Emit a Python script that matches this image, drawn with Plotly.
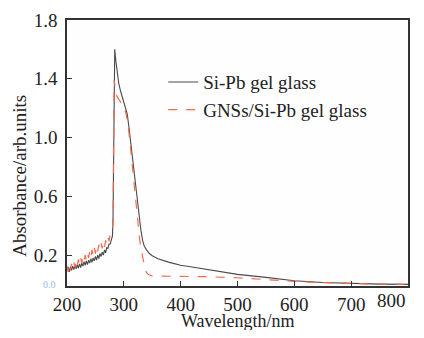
import plotly.graph_objects as go

# Noisy low-wavelength region (200-280 nm, 2 nm steps)
wl_low = list(range(200, 282, 2))
sipb_low = [0.095, 0.12, 0.085, 0.12, 0.095, 0.125, 0.10, 0.13, 0.105, 0.135,
            0.11, 0.14, 0.115, 0.145, 0.125, 0.155, 0.13, 0.16, 0.135, 0.165,
            0.145, 0.175, 0.15, 0.18, 0.16, 0.19, 0.165, 0.20, 0.175, 0.21,
            0.19, 0.22, 0.20, 0.235, 0.215, 0.25, 0.245, 0.275, 0.275, 0.305, 0.33]
gns_low = [0.12, 0.085, 0.135, 0.095, 0.14, 0.11, 0.15, 0.115, 0.16, 0.125,
           0.17, 0.135, 0.18, 0.145, 0.19, 0.16, 0.20, 0.165, 0.21, 0.18,
           0.225, 0.185, 0.235, 0.20, 0.25, 0.21, 0.26, 0.225, 0.27, 0.235,
           0.28, 0.245, 0.29, 0.255, 0.30, 0.275, 0.32, 0.295, 0.34, 0.345, 0.38]

# Peak and tail region
wl_sipb_high = [281, 282, 283, 284, 286, 288, 291, 294, 297, 300, 303, 306, 309,
                312, 315, 318, 321, 324, 327, 330, 333, 336, 340, 345, 350, 360,
                380, 400, 420, 450, 500, 550, 600, 650, 700, 750, 800]
sipb_high = [0.45, 0.90, 1.40, 1.60, 1.52, 1.45, 1.37, 1.32, 1.28, 1.25, 1.21,
             1.16, 1.07, 0.97, 0.85, 0.74, 0.64, 0.54, 0.45, 0.37, 0.30, 0.26,
             0.235, 0.21, 0.195, 0.175, 0.15, 0.13, 0.118, 0.098, 0.068, 0.048,
             0.025, 0.013, 0.006, 0.002, 0.0]

wl_gns_high = [281, 282, 283, 284, 285, 288, 292, 296, 300, 304, 307, 310, 313,
               316, 319, 322, 325, 328, 331, 334, 337, 340, 344, 350, 400, 450,
               500, 550, 600, 650, 700, 750, 800]
gns_high = [0.42, 1.00, 1.39, 1.36, 1.31, 1.28, 1.255, 1.23, 1.21, 1.16, 1.10,
            1.00, 0.88, 0.76, 0.65, 0.53, 0.40, 0.30, 0.23, 0.16, 0.11, 0.08,
            0.065, 0.057, 0.055, 0.052, 0.045, 0.03, 0.02, 0.012, 0.006, 0.002,
            0.0]

x_ticks = [200, 300, 400, 500, 600, 700, 800]
x_tick_text = ["200", "300", "400", "500", "600", "700", "800"]
y_ticks = [0.2, 0.6, 1.0, 1.4, 1.8]
y_tick_text = ["0.2", "0.6", "1.0", "1.4", "1.8"]

FONT = "Liberation Serif"
FS = 19

fig = go.Figure()
fig.add_trace(go.Scatter(
    x=wl_low + wl_sipb_high, y=sipb_low + sipb_high, mode="lines",
    name="Si-Pb gel glass", line=dict(color="#4a4a4a", width=1.1)))
fig.add_trace(go.Scatter(
    x=wl_low + wl_gns_high, y=gns_low + gns_high, mode="lines",
    name="GNSs/Si-Pb gel glass",
    line=dict(color="#f26b4f", width=1.2, dash="dash")))

# page body adds an 8px margin on every side; keep the page within the window
fig.update_layout(
    width=408, height=322,
    margin=dict(l=59, r=8, t=12, b=44, autoexpand=False),
    paper_bgcolor="#ffffff", plot_bgcolor="#fefefe",
    font=dict(family=FONT, size=FS, color="#222"),
    showlegend=True,
    legend=dict(x=0.282, y=0.838, xanchor="left", yanchor="top",
                bgcolor="rgba(0,0,0,0)", font=dict(family=FONT, size=FS),
                tracegroupgap=0),
    xaxis=dict(range=[200, 800], tickvals=x_ticks[:-1],
               ticktext=x_tick_text[:-1], ticks="inside", ticklen=5,
               tickcolor="#333", showline=True, linecolor="#333", linewidth=1.5,
               mirror=True, showgrid=False, zeroline=False, automargin=False,
               ticklabelstandoff=0, tickfont=dict(family=FONT, size=FS)),
    yaxis=dict(range=[-0.011, 1.8], tickvals=y_ticks, ticktext=y_tick_text,
               ticks="inside", ticklen=5, tickcolor="#333", showline=True,
               linecolor="#333", linewidth=1.5, mirror=True, showgrid=False,
               zeroline=False, automargin=False, ticklabelstandoff=4,
               tickfont=dict(family=FONT, size=FS)),
)
# last x tick label, kept inside the page edge
fig.add_annotation(text=x_tick_text[-1], xref="x", yref="paper",
                   x=x_ticks[-1], y=0, yshift=-2, xanchor="right",
                   yanchor="top", showarrow=False,
                   font=dict(family=FONT, size=FS, color="#222"))
# axis titles
fig.add_annotation(text="Wavelength/nm", xref="paper", yref="paper",
                   x=0.5, y=-0.1316, xanchor="center", yanchor="middle",
                   showarrow=False, font=dict(family=FONT, size=18, color="#222"))
fig.add_annotation(text="Absorbance/arb.units", xref="paper", yref="paper",
                   x=-0.138, y=0.414, xanchor="center", yanchor="middle",
                   textangle=-90, showarrow=False,
                   font=dict(family=FONT, size=FS, color="#222"))
fig.add_annotation(text="0.0", xref="paper", yref="y", x=0, y=0.0,
                   xanchor="right", xshift=-9, showarrow=False,
                   font=dict(family=FONT, size=10, color="#9bb7df"))

fig.write_html("out.html")
